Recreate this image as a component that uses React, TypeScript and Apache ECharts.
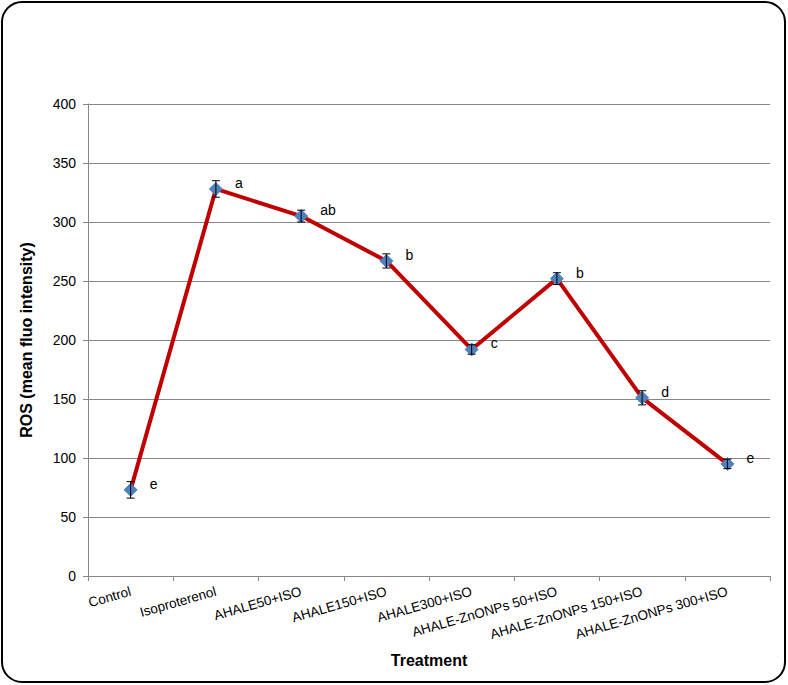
import React, { useEffect, useRef } from "react";
import * as echarts from "echarts";

const categories = [
  "Control",
  "Isoproterenol",
  "AHALE50+ISO",
  "AHALE150+ISO",
  "AHALE300+ISO",
  "AHALE-ZnONPs 50+ISO",
  "AHALE-ZnONPs 150+ISO",
  "AHALE-ZnONPs 300+ISO",
];
const rosValues = [73, 328, 305, 267, 192, 252, 151, 95];
const errValues = [7, 7, 5, 6, 4, 5, 6, 4];
const letters = ["e", "a", "ab", "b", "c", "b", "d", "e"];
const yTicks = [0, 50, 100, 150, 200, 250, 300, 350, 400];

const FONT = "'Liberation Sans', Arial, sans-serif";

export default function App() {
  const ref = useRef<HTMLDivElement>(null);
  useEffect(() => {
    if (!ref.current) return;
    const chart = echarts.init(ref.current, undefined, { renderer: "svg" });
    const errData = rosValues.map((v, i) => [i, v - errValues[i], v + errValues[i]]);
    chart.setOption({
      animation: false,
      backgroundColor: "#ffffff",
      textStyle: { fontFamily: FONT },
      graphic: [
        {
          type: "rect",
          shape: { x: 2, y: 2, width: 783, height: 680, r: 20 },
          style: { fill: "none", stroke: "#000000", lineWidth: 2 },
          silent: true,
          z: 100,
        },
      ],
      grid: { left: 88, right: 18, top: 104, bottom: 109, containLabel: false },
      xAxis: {
        type: "category",
        data: categories,
        boundaryGap: true,
        name: "Treatment",
        nameLocation: "middle",
        nameGap: 76,
        nameTextStyle: { fontFamily: FONT, fontSize: 16, fontWeight: "bold", color: "#000" },
        axisLine: { show: true, lineStyle: { color: "#868686", width: 1 } },
        axisTick: { show: true, alignWithLabel: false, length: 5, lineStyle: { color: "#868686" } },
        axisLabel: {
          interval: 0,
          rotate: 16,
          fontFamily: FONT,
          fontSize: 13.5,
          color: "#000",
          margin: 15,
        },
        splitLine: { show: false },
      },
      yAxis: {
        type: "value",
        min: yTicks[0],
        max: yTicks[yTicks.length - 1],
        interval: 50,
        name: "ROS (mean fluo intensity)",
        nameLocation: "middle",
        nameGap: 54,
        nameRotate: 90,
        nameTextStyle: { fontFamily: FONT, fontSize: 16, fontWeight: "bold", color: "#000" },
        axisLine: { show: true, lineStyle: { color: "#868686", width: 1 } },
        axisTick: { show: true, length: 5, inside: false, lineStyle: { color: "#868686" } },
        axisLabel: { fontFamily: FONT, fontSize: 14, color: "#000", margin: 12 },
        splitLine: { show: true, lineStyle: { color: "#868686", width: 1 } },
      },
      series: [
        {
          type: "line",
          data: rosValues,
          symbol: "diamond",
          symbolSize: 13,
          lineStyle: { color: "#C00000", width: 4 },
          itemStyle: { color: "#4F81BD", borderColor: "#4F81BD" },
          z: 3,
          label: {
            show: true,
            position: "right",
            distance: 12,
            offset: [0, -6],
            fontFamily: FONT,
            fontSize: 14,
            color: "#000",
            formatter: (p: any) => letters[p.dataIndex],
          },
        },
        {
          type: "custom",
          data: errData,
          z: 4,
          renderItem: (params: any, api: any) => {
            const x = api.value(0);
            const lo = api.coord([x, api.value(1)]);
            const hi = api.coord([x, api.value(2)]);
            const w = 4;
            const st = { stroke: "#000", lineWidth: 1 };
            return {
              type: "group",
              children: [
                { type: "line", shape: { x1: hi[0], y1: hi[1], x2: lo[0], y2: lo[1] }, style: st },
                { type: "line", shape: { x1: hi[0] - w, y1: hi[1], x2: hi[0] + w, y2: hi[1] }, style: st },
                { type: "line", shape: { x1: lo[0] - w, y1: lo[1], x2: lo[0] + w, y2: lo[1] }, style: st },
              ],
            };
          },
        },
      ],
    });
    return () => chart.dispose();
  }, []);
  return (
    <div
      ref={ref}
      style={{ position: "fixed", left: 0, top: 0, width: 788, height: 685, background: "#fff" }}
    />
  );
}
